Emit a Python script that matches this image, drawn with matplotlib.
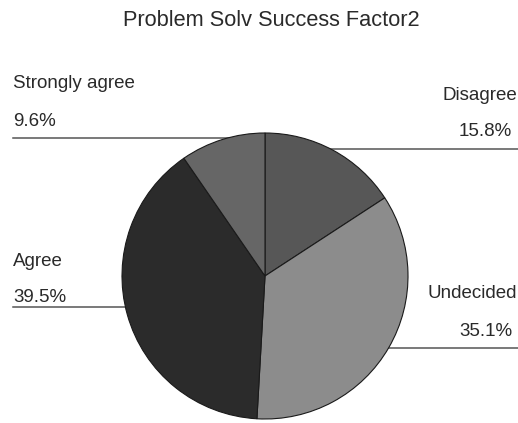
import matplotlib.pyplot as plt

# survey answers, clockwise from 12 o'clock
labels = ['Disagree', 'Undecided', 'Agree', 'Strongly agree']
shares = [15.8, 35.1, 39.5, 9.6]
colors = ['#575757', '#8c8c8c', '#2b2b2b', '#666666']

W, H = 518, 423
fig = plt.figure(figsize=(W / 100, H / 100), dpi=100)
plt.rcParams['font.family'] = ['Liberation Sans', 'DejaVu Sans']

# overlay in pixel coords for title, labels and leader lines
bg = fig.add_axes([0, 0, 1, 1], zorder=0)
bg.set_xlim(0, W)
bg.set_ylim(H, 0)
bg.axis('off')

# pie itself
cx, cy, r = 265, 276, 143
ax = fig.add_axes([(cx - r) / W, (H - cy - r) / H, 2 * r / W, 2 * r / H], zorder=1)
ax.pie(shares, colors=colors, startangle=90, counterclock=False,
       wedgeprops=dict(edgecolor='#1a1a1a', linewidth=0.8))
ax.set_xlim(-1, 1)
ax.set_ylim(-1, 1)
ax.set_aspect('equal')
ax.patch.set_alpha(0)

bg.text(271, 21, 'Problem Solv Success Factor2', ha='center', va='center',
        fontsize=15.7, color='#2a2a2a')

txt = dict(fontsize=13.5, color='#2a2a2a', va='center')
line = dict(color='#555555', linewidth=1.1)

# Strongly agree (upper left)
bg.text(13, 83, labels[3], ha='left', **txt)
bg.text(13, 121, f'{shares[3]}%', ha='left', **txt)
bg.plot([13, cx], [138, 138], **line)

# Disagree (upper right)
bg.text(517, 96, labels[0], ha='right', **txt)
bg.text(512, 132, f'{shares[0]}%', ha='right', **txt)
bg.plot([cx, 518], [149, 149], **line)

# Agree (left)
bg.text(13, 261, labels[2], ha='left', **txt)
bg.text(13, 297, f'{shares[2]}%', ha='left', **txt)
bg.plot([13, cx], [307, 307], **line)

# Undecided (right)
bg.text(517, 294, labels[1], ha='right', **txt)
bg.text(512, 332, f'{shares[1]}%', ha='right', **txt)
bg.plot([cx, 518], [348, 348], **line)

fig.savefig('out.png', dpi=100)
